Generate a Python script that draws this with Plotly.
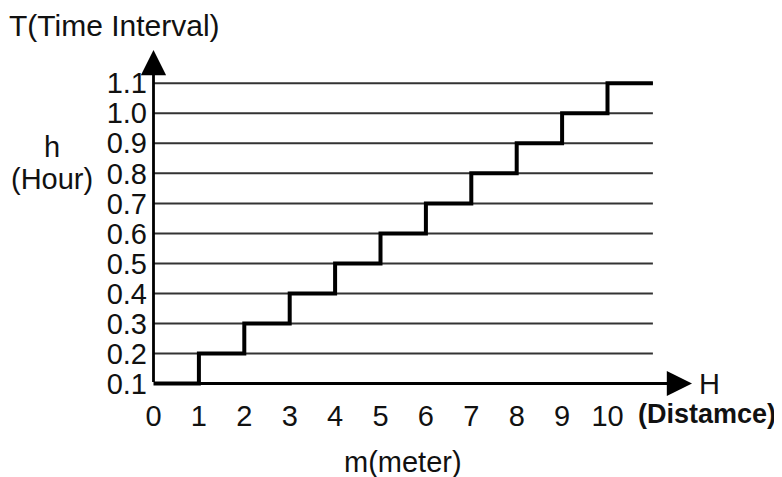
import plotly.graph_objects as go

# ---- data ----
distance_m = [0, 1, 2, 3, 4, 5, 6, 7, 8, 9, 10, 11]
time_h = [0.1, 0.2, 0.3, 0.4, 0.5, 0.6, 0.7, 0.8, 0.9, 1.0, 1.1, 1.1]
x_ticks = [0, 1, 2, 3, 4, 5, 6, 7, 8, 9, 10]
y_ticks = [0.1, 0.2, 0.3, 0.4, 0.5, 0.6, 0.7, 0.8, 0.9, 1.0, 1.1]
y_tick_text = ["0.1", "0.2", "0.3", "0.4", "0.5", "0.6", "0.7", "0.8", "0.9", "1.0", "1.1"]
grid_levels = [0.2, 0.3, 0.4, 0.5, 0.6, 0.7, 0.8, 0.9, 1.0, 1.1]

OFF = 8                      # page body margin in the browser
W, H = 782 - OFF, 477 - OFF
FONT = "Liberation Sans, Arial, sans-serif"
INK = "#111111"

# pixel geometry (reference window pixels)
X0_PX, X_UNIT = 153.5, 45.4      # px of x=0, px per metre
Y0_PX, Y_UNIT = 383.5, 300.2     # px of y=0.1, px per hour
L, R, T, B = 149 - OFF, 84, 47 - OFF, 85

pw, ph = W - L - R, H - T - B

def px2x(px):
    return (px - X0_PX) / X_UNIT

def py2y(py):
    return 0.1 + (Y0_PX - py) / Y_UNIT

def ppx(px):
    return (px - OFF - L) / pw

def ppy(py):
    return 1 - (py - OFF - T) / ph

fig = go.Figure()

fig.add_trace(go.Scatter(
    x=distance_m, y=time_h, mode="lines",
    line=dict(shape="hv", color="#000000", width=4),
    hoverinfo="skip", showlegend=False,
))

# horizontal grid lines
for g in grid_levels:
    fig.add_shape(type="line", xref="x", yref="y", x0=0, x1=distance_m[-1], y0=g, y1=g,
                  line=dict(color="#333333", width=2), layer="below")

annotations = []
# y axis arrow
annotations.append(dict(x=0, y=py2y(50), ax=0, ay=y_ticks[0], xref="x", yref="y",
                        axref="x", ayref="y", text="", showarrow=True,
                        arrowhead=2, arrowsize=1.8, arrowwidth=2.8, arrowcolor="#000000",
                        standoff=0, startstandoff=0))
# x axis arrow
annotations.append(dict(x=px2x(692), y=y_ticks[0], ax=0, ay=y_ticks[0], xref="x", yref="y",
                        axref="x", ayref="y", text="", showarrow=True,
                        arrowhead=2, arrowsize=1.8, arrowwidth=2.8, arrowcolor="#000000",
                        standoff=0, startstandoff=0))

def label(text, cx, cy, size=29):
    annotations.append(dict(
        x=ppx(cx), y=ppy(cy), xref="paper", yref="paper", text=text,
        showarrow=False, xanchor="center", yanchor="middle",
        font=dict(family=FONT, size=size, color=INK),
    ))

label("T(Time Interval)", 114.5, 25, size=30)
label("h", 52, 147)
label("(Hour)", 52, 179)
label("H", 709, 384)
label("<b>(Distamce)</b>", 707, 414, size=27)
label("m(meter)", 403, 462)

fig.update_layout(
    width=W, height=H,
    margin=dict(l=L, r=R, t=T, b=B, pad=0),
    paper_bgcolor="white", plot_bgcolor="white",
    showlegend=False,
    annotations=annotations,
    xaxis=dict(range=[px2x(L + OFF), px2x(W - R + OFF)], tickmode="array", tickvals=x_ticks,
               ticktext=[str(v) for v in x_ticks], showgrid=False, zeroline=False,
               showline=False, ticks="", ticklabelstandoff=4,
               tickfont=dict(family=FONT, size=29, color=INK), fixedrange=True),
    yaxis=dict(range=[py2y(H - B + OFF), py2y(T + OFF)], tickmode="array", tickvals=y_ticks,
               ticktext=y_tick_text, showgrid=False, zeroline=False,
               showline=False, ticks="", ticklabelstandoff=1,
               tickfont=dict(family=FONT, size=29, color=INK), fixedrange=True),
)

fig.write_html("out.html")
